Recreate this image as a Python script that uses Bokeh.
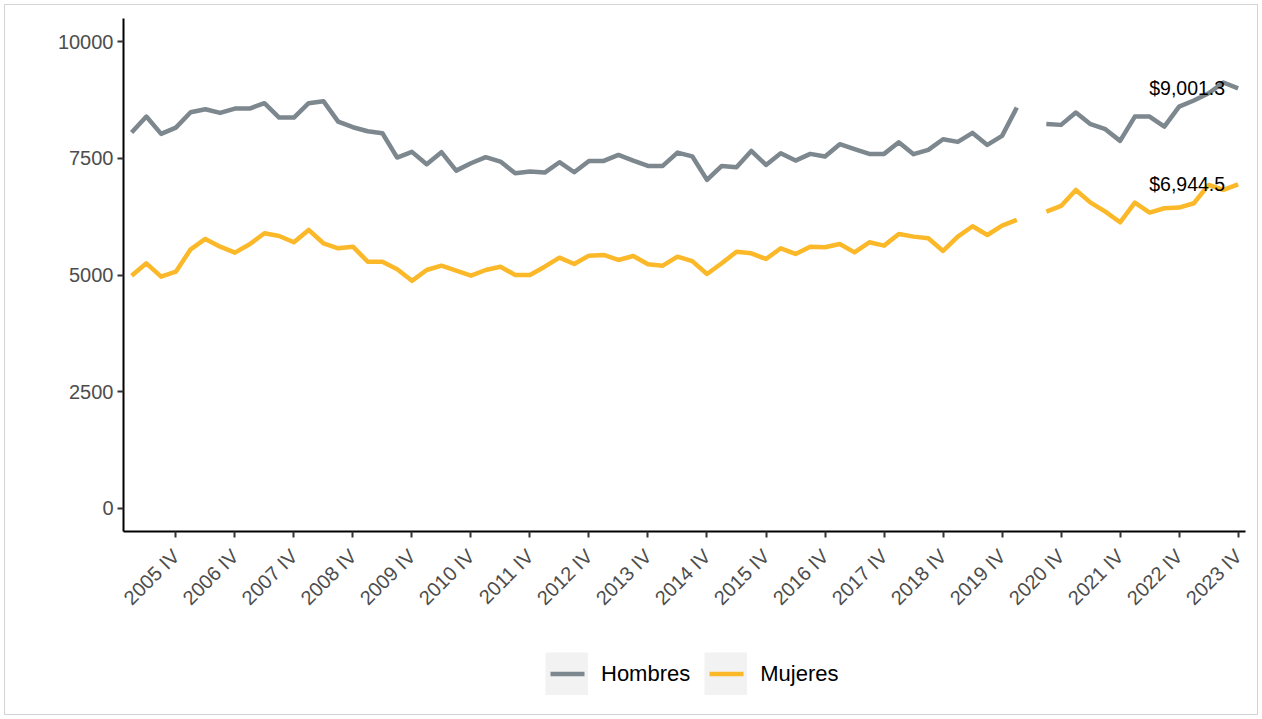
import math
import numpy as np
from bokeh.plotting import figure
from bokeh.layouts import column
from bokeh.models import (ColumnDataSource, Range1d, FixedTicker, NumeralTickFormatter,
                          Legend, LegendItem)
from bokeh.core.properties import value
from bokeh.embed import file_html
from bokeh.resources import INLINE

# ---------------- data ----------------
years = list(range(2005, 2024))
quarters = ["I", "II", "III", "IV"]
periods = [f"{y} {q}" for y in years for q in quarters]

hombres = [8054, 8397, 8026, 8161, 8491, 8555, 8476, 8569, 8569, 8684,
           8376, 8376, 8684, 8727, 8290, 8169, 8083, 8040, 7518, 7640,
           7375, 7633, 7238, 7397, 7526, 7432, 7182, 7218, 7196, 7418,
           7203, 7446, 7446, 7575, 7453, 7339, 7339, 7625, 7545, 7039,
           7339, 7310, 7661, 7361, 7611, 7453, 7597, 7540, 7804, 7697,
           7597, 7597, 7847, 7590, 7682, 7911, 7854, 8047, 7790, 7983,
           8591, None, 8240, 8219, 8483, 8233, 8126, 7876, 8397, 8397,
           8183, 8612, 8741, 8898, 9127, 9001.3]

mujeres = [4985, 5251, 4964, 5071, 5551, 5773, 5608, 5479, 5658, 5894,
           5837, 5701, 5966, 5680, 5573, 5608, 5286, 5286, 5122, 4875,
           5107, 5200, 5093, 4986, 5107, 5178, 5000, 5000, 5178, 5372,
           5236, 5415, 5429, 5322, 5408, 5229, 5200, 5393, 5297, 5021,
           5251, 5500, 5465, 5343, 5573, 5451, 5608, 5594, 5665, 5486,
           5701, 5630, 5880, 5823, 5787, 5515, 5823, 6045, 5858, 6058,
           6180, None, 6359, 6481, 6824, 6552, 6359, 6130, 6552, 6338,
           6431, 6445, 6538, 6931, 6824, 6944.5]

x_tick_labels = [f"{y} IV" for y in years]
y_ticks = [0, 2500, 5000, 7500, 10000]
series_names = ["Hombres", "Mujeres"]

# ---------------- style ----------------
COL_H = "#7d878e"
COL_M = "#fbb829"
FONT = "Liberation Sans"
W = 1254
LW = 4.5

idx = list(range(len(periods)))
h = [np.nan if v is None else v for v in hombres]
m = [np.nan if v is None else v for v in mujeres]
src = ColumnDataSource(dict(x=idx, h=h, m=m))

p = figure(width=W, height=621, output_backend="svg", toolbar_location=None,
           x_range=Range1d(-0.55, 75.5), y_range=Range1d(-500, 10500),
           min_border_left=119, min_border_right=13, min_border_top=14,
           min_border_bottom=94)
p.grid.visible = False
p.outline_line_color = None
p.background_fill_color = None
p.border_fill_color = None

p.line("x", "h", source=src, line_color=COL_H, line_width=LW, line_join="round")
p.line("x", "m", source=src, line_color=COL_M, line_width=LW, line_join="round")

# end labels
lab_src = ColumnDataSource(dict(
    x=[idx[-1], idx[-1]],
    y=[hombres[-1], mujeres[-1]],
    t=[f"${hombres[-1]:,.1f}", f"${mujeres[-1]:,.1f}"]))
p.text("x", "y", "t", source=lab_src, text_align="right", text_baseline="middle",
       x_offset=-13, text_font=value(FONT), text_font_size="19.5px", text_color="black")

# axes
p.xaxis.ticker = FixedTicker(ticks=[periods.index(l) for l in x_tick_labels])
p.xaxis.major_label_overrides = {periods.index(l): l for l in x_tick_labels}
p.xaxis.major_label_orientation = math.pi / 4
p.yaxis.ticker = FixedTicker(ticks=y_ticks)
p.yaxis.formatter = NumeralTickFormatter(format="0")

for ax in (p.xaxis[0], p.yaxis[0]):
    ax.axis_line_color = "black"
    ax.axis_line_width = 2
    ax.major_tick_line_color = "#333333"
    ax.major_tick_line_width = 2
    ax.major_tick_out = 6
    ax.major_tick_in = 0
    ax.minor_tick_out = 0
    ax.minor_tick_in = 0
    ax.major_label_text_font = FONT
    ax.major_label_text_font_size = "20px"
    ax.major_label_text_color = "#4d4d4d"
p.yaxis.major_label_standoff = 4
p.xaxis.major_label_standoff = 15

# ---------------- legend figure ----------------
p2 = figure(width=W, height=90, output_backend="svg", toolbar_location=None,
            x_range=Range1d(0, 1), y_range=Range1d(0, 1),
            x_axis_location=None, y_axis_location=None,
            min_border_left=0, min_border_right=0, min_border_top=0, min_border_bottom=0)
p2.grid.visible = False
p2.outline_line_color = None
p2.background_fill_color = None
p2.border_fill_color = None

# helper renderers lying outside the visible range (only their legend glyphs show)
hx, hy = [-10, -9], [-10, -10]
box1 = p2.line(x=hx, y=hy, line_color="#f2f2f2", line_width=43, line_cap="butt")
leg_h = p2.line(x=hx, y=hy, line_color=COL_H, line_width=LW, line_dash="34 9", line_dash_offset=38)
box2 = p2.line(x=hx, y=hy, line_color="#f2f2f2", line_width=43, line_cap="butt")
leg_m = p2.line(x=hx, y=hy, line_color=COL_M, line_width=LW, line_dash="34 9", line_dash_offset=38)

legend = Legend(items=[LegendItem(label=series_names[0], renderers=[box1, leg_h]),
                       LegendItem(label=series_names[1], renderers=[box2, leg_m])],
                orientation="horizontal", location=(422, 20),
                glyph_width=43, glyph_height=43, label_standoff=13, spacing=14,
                padding=0, margin=0, border_line_color=None, background_fill_alpha=0,
                label_text_font=FONT, label_text_font_size="22px", label_text_color="black")
p2.add_layout(legend, "center")

layout = column(p, p2, spacing=0,
                styles={"margin": "4px 0 0 4px", "outline": "1px solid #d4d4d4",
                        "outline-offset": "-1px"})

open("out.html", "w").write(file_html(layout, INLINE))
